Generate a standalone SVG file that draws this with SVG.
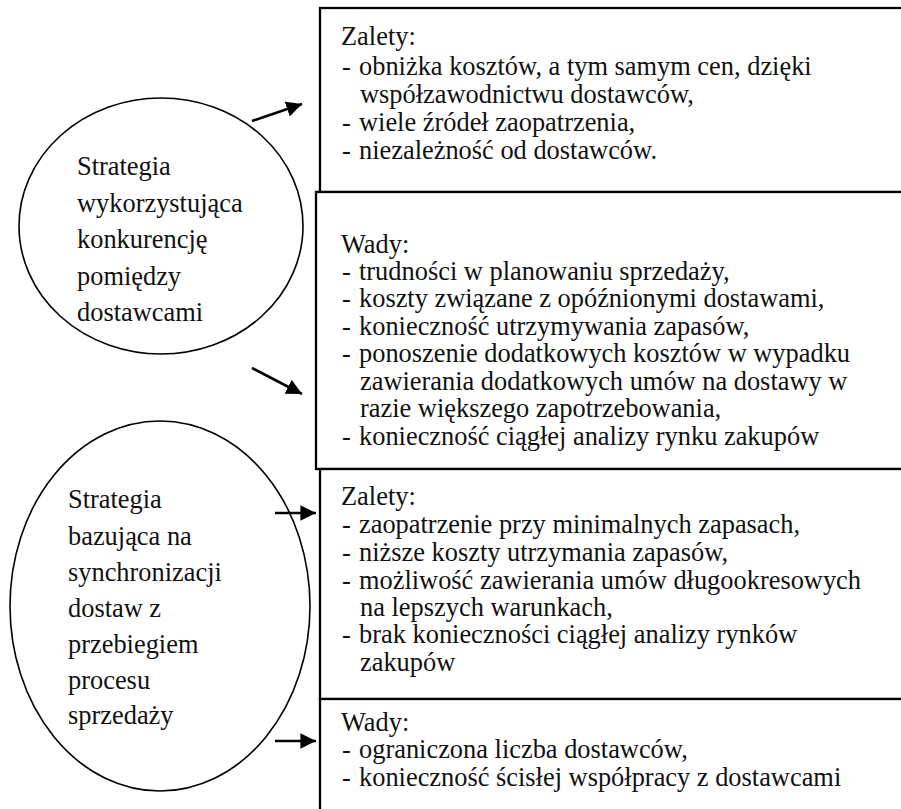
<svg xmlns="http://www.w3.org/2000/svg" width="901" height="809" viewBox="0 0 901 809" font-family="'Liberation Serif', 'Times New Roman', Times, serif" font-size="26.4">
<defs>
<style>
text { font-family: 'Liberation Serif', 'Times New Roman', Times, serif; font-size: 26.4px; fill: #111; }
.box { fill: #fff; stroke: #000; stroke-width: 2.3; }
.ell { fill: none; stroke: #000; stroke-width: 1.6; }
.con { stroke: #000; stroke-width: 2.6; fill: none; }
</style>
<marker id="ah" viewBox="0 0 10 10" refX="10" refY="5" markerWidth="6" markerHeight="6" markerUnits="strokeWidth" orient="auto">
<path d="M0,0 L10,5 L0,10 z" fill="#000"/>
</marker>
</defs>
<rect width="901" height="809" fill="#fff"/>

<g id="box-zalety-1">
<rect class="box" x="320" y="8" width="600" height="184"/>
<text x="341" y="45">Zalety:</text>
<text y="74.5"><tspan x="342">-</tspan><tspan x="359">obniżka kosztów, a tym samym cen, dzięki</tspan></text>
<text x="360" y="102.5">współzawodnictwu dostawców,</text>
<text y="130.5"><tspan x="342">-</tspan><tspan x="359">wiele źródeł zaopatrzenia,</tspan></text>
<text y="158.5"><tspan x="342">-</tspan><tspan x="359">niezależność od dostawców.</tspan></text>
</g>

<g id="box-wady-1">
<rect class="box" x="316" y="192" width="604" height="277"/>
<text x="341" y="252.5">Wady:</text>
<text y="279.5"><tspan x="342">-</tspan><tspan x="359">trudności w planowaniu sprzedaży,</tspan></text>
<text y="307"><tspan x="342">-</tspan><tspan x="359">koszty związane z opóźnionymi dostawami,</tspan></text>
<text y="334.5"><tspan x="342">-</tspan><tspan x="359">konieczność utrzymywania zapasów,</tspan></text>
<text y="362"><tspan x="342">-</tspan><tspan x="359">ponoszenie dodatkowych kosztów w wypadku</tspan></text>
<text x="360" y="389.5">zawierania dodatkowych umów na dostawy w</text>
<text x="360" y="417">razie większego zapotrzebowania,</text>
<text y="444.5"><tspan x="342">-</tspan><tspan x="359">konieczność ciągłej analizy rynku zakupów</tspan></text>
</g>

<g id="box-zalety-2">
<rect class="box" x="320" y="469" width="600" height="230"/>
<text x="341" y="505">Zalety:</text>
<text y="532.5"><tspan x="342">-</tspan><tspan x="359">zaopatrzenie przy minimalnych zapasach,</tspan></text>
<text y="560.5"><tspan x="342">-</tspan><tspan x="359">niższe koszty utrzymania zapasów,</tspan></text>
<text y="588.5"><tspan x="342">-</tspan><tspan x="359">możliwość zawierania umów długookresowych</tspan></text>
<text x="360" y="615.5">na lepszych warunkach,</text>
<text y="642.5"><tspan x="342">-</tspan><tspan x="359">brak konieczności ciągłej analizy rynków</tspan></text>
<text x="360" y="670.5">zakupów</text>
</g>

<g id="box-wady-2">
<rect class="box" x="320" y="699" width="600" height="130"/>
<text x="341" y="731">Wady:</text>
<text y="758"><tspan x="342">-</tspan><tspan x="359">ograniczona liczba dostawców,</tspan></text>
<text y="786"><tspan x="342">-</tspan><tspan x="359">konieczność ścisłej współpracy z dostawcami</tspan></text>
</g>

<g id="strategy-1">
<ellipse class="ell" cx="161" cy="226" rx="142" ry="128"/>
<text x="77" y="174.5">Strategia</text>
<text x="77" y="211.5">wykorzystująca</text>
<text x="77" y="248">konkurencję</text>
<text x="77" y="284.5">pomiędzy</text>
<text x="77" y="321">dostawcami</text>
</g>

<g id="strategy-2">
<ellipse class="ell" cx="160" cy="606" rx="150" ry="185"/>
<text x="68" y="507.5">Strategia</text>
<text x="68" y="544.5">bazująca na</text>
<text x="68" y="580.5">synchronizacji</text>
<text x="68" y="616.5">dostaw z</text>
<text x="68" y="652.5">przebiegiem</text>
<text x="68" y="688.5">procesu</text>
<text x="68" y="724">sprzedaży</text>
</g>

<g id="connectors">
<line class="con" x1="252" y1="121" x2="302" y2="104" marker-end="url(#ah)"/>
<line class="con" x1="252" y1="368" x2="302" y2="394" marker-end="url(#ah)"/>
<line class="con" x1="275" y1="513" x2="316" y2="513" marker-end="url(#ah)"/>
<line class="con" x1="275" y1="741" x2="316" y2="741" marker-end="url(#ah)"/>
</g>
</svg>
